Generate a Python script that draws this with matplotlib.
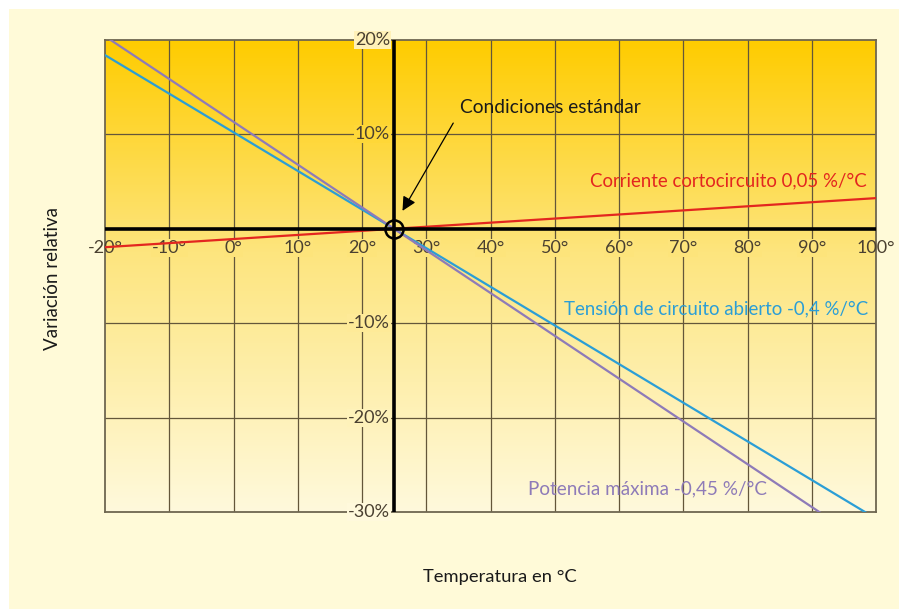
import numpy as np
import matplotlib
matplotlib.use("Agg")
import matplotlib.pyplot as plt
from matplotlib.colors import LinearSegmentedColormap
from matplotlib.patches import Rectangle

plt.rcParams["font.family"] = ["Lato", "DejaVu Sans"]

# data (relative variation in %, vs temperature in °C)
TEMP = [-20, 25, 100]
CORRIENTE = [-1.95, 0.0, 3.25]
TENSION = [18.4, 0.0, -30.7]
POTENCIA = [20.4, 0.0, -34.0]

X_TICKS = list(range(-20, 101, 10))
X_LABELS = [f"{t}°" for t in X_TICKS]
Y_TICKS = [20, 10, -10, -20, -30]
Y_LABELS = ["20%", "10%", "-10%", "-20%", "-30%"]
STD_TEMP = 25

RED = "#E3261F"
BLUE = "#2B9ED6"
PURPLE = "#8E7BB8"
GRID = "#63563a"
LABEL = "#4a4030"
PANEL = "#FFFAD8"

grad = LinearSegmentedColormap.from_list(
    "sun", [(0.0, "#FFF9DC"), (0.55, "#FDE57E"), (1.0, "#FFCC00")])

fig = plt.figure(figsize=(8.99, 6.09), dpi=100)
fig.patch.set_facecolor("white")
fig.add_artist(Rectangle((9 / 899, 0), 1, 1 - 9 / 609, transform=fig.transFigure,
                         facecolor=PANEL, edgecolor="none", zorder=-5))

ax = fig.add_axes([105 / 899, 97 / 609, 771 / 899, 472 / 609])
ax.set_zorder(2)
ax.set_xlim(-20, 100)
ax.set_ylim(-30, 20)
ax.set_xticks([]); ax.set_yticks([])
for s in ax.spines.values():
    s.set_color("#6e6650"); s.set_linewidth(1.3)

ax.imshow(np.linspace(0, 1, 256)[::-1, None], cmap=grad, aspect="auto",
          extent=[-20, 100, -30, 20], zorder=0)

def bg_at(y):
    return grad((y + 30) / 50)

for t in X_TICKS[1:-1]:
    ax.axvline(t, color=GRID, lw=0.9, zorder=1)
for v in Y_TICKS[1:-1]:
    ax.axhline(v, color=GRID, lw=0.9, zorder=1)

# tick labels sit over the grid with a background-coloured box
for t, lab in zip(X_TICKS, X_LABELS):
    box = None
    if X_TICKS[0] < t < X_TICKS[-1]:
        box = dict(boxstyle="square,pad=0.05", fc=bg_at(-2.0), ec="none")
    ax.text(t, -2.0, lab, ha="center", va="center", fontsize=13, color=LABEL,
            zorder=3, clip_on=False, bbox=box)
for v, lab in zip(Y_TICKS, Y_LABELS):
    fc = "#FFF1B8" if v == Y_TICKS[0] else bg_at(v)
    ax.annotate(lab, (STD_TEMP, v), xytext=(-3, 0), textcoords="offset points",
                ha="right", va="center", fontsize=13, color=LABEL, zorder=3,
                annotation_clip=False,
                bbox=dict(boxstyle="square,pad=0.05", fc=fc, ec="none"))

ax.plot(TEMP, TENSION, color=BLUE, lw=1.6, zorder=4)
ax.plot(TEMP, POTENCIA, color=PURPLE, lw=1.6, zorder=4)
ax.plot(TEMP, CORRIENTE, color=RED, lw=1.6, zorder=5)

# black axes through the standard point
ax.axhline(0, color="black", lw=2.6, zorder=6)
ax.axvline(STD_TEMP, color="black", lw=2.6, zorder=6)
ax.plot([STD_TEMP], [0], marker="o", ms=13, mfc="none", mec="black", mew=1.8, zorder=7)

ax.text(35.2, 12.9, "Condiciones estándar", ha="left", va="center", fontsize=13.8,
        color="#1a1a1a", zorder=8)
ax.annotate("", xy=(26.3, 1.9), xytext=(34.2, 11.2), zorder=8,
            arrowprops=dict(arrowstyle="-|>", color="black", lw=0.9,
                            mutation_scale=21, shrinkA=0, shrinkB=0))

ax.text(98.5, 5.1, "Corriente cortocircuito 0,05 %/°C", color=RED, fontsize=13.4,
        ha="right", va="center", zorder=8)
ax.text(98.8, -8.5, "Tensión de circuito abierto -0,4 %/°C", color=BLUE, fontsize=13.4,
        ha="right", va="center", zorder=8)
ax.text(45.8, -27.6, "Potencia máxima -0,45 %/°C", color=PURPLE, fontsize=13.6,
        ha="left", va="center", zorder=8)

fig.text(52 / 899, 1 - 278 / 609, "Variación relativa", rotation=90, ha="center",
         va="center", fontsize=13.5, color="#1a1a1a")
fig.text(500 / 899, 1 - 577 / 609, "Temperatura en °C", ha="center", va="center",
         fontsize=13.2, color="#1a1a1a")

fig.savefig("out.png", dpi=100)
